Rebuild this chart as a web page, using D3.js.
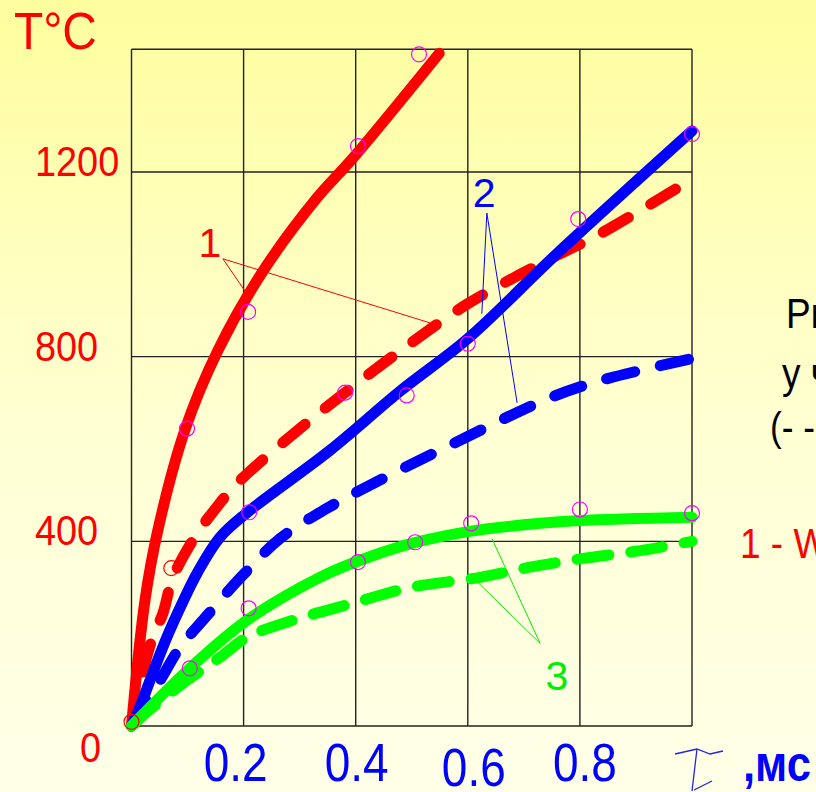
<!DOCTYPE html>
<html>
<head>
<meta charset="utf-8">
<script src="https://cdn.jsdelivr.net/npm/d3@7"></script>
<style>
  html, body { margin: 0; padding: 0; overflow: hidden; }
  svg { display: block; font-family: "Liberation Sans", Arial, sans-serif; }
</style>
</head>
<body>
<figure id="chart" style="margin:0"></figure>
<script>
// Values: time in ms, temperature in °C
const xTicks = [0.2, 0.4, 0.6, 0.8];
const yTicks = [0, 400, 800, 1200];
const yTop = 1466;

const redSolid = [[0, 0], [0.024, 272], [0.047, 424], [0.095, 640], [0.154, 813], [0.235, 986],
  [0.331, 1144], [0.395, 1230], [0.549, 1457]];
const redDashed = [[0, 0], [0.021, 121], [0.038, 192], [0.056, 244], [0.074, 322], [0.117, 417],
  [0.145, 463], [0.188, 525], [0.301, 645], [0.381, 722], [0.480, 813], [0.599, 914],
  [0.747, 1012], [0.836, 1066], [1.0, 1185]];
const blueSolid = [[0, 0], [0.015, 41], [0.038, 115], [0.063, 192], [0.087, 257], [0.117, 331],
  [0.158, 409], [0.206, 462], [0.354, 597], [0.480, 726], [0.600, 839], [0.759, 1023], [1.0, 1289]];
const blueDashed = [[0, 0], [0.051, 99], [0.087, 171], [0.131, 234], [0.195, 322], [0.265, 406],
  [0.348, 471], [0.431, 525], [0.568, 608], [0.747, 711], [0.836, 748], [1.0, 796]];
const greenSolid = [[0, 0], [0.104, 125], [0.206, 229], [0.336, 322], [0.408, 359], [0.502, 396],
  [0.606, 422], [0.729, 439], [0.800, 445], [1.0, 452]];
const greenDashed = [[0, 0], [0.038, 41], [0.099, 99], [0.158, 149], [0.206, 192], [0.288, 229],
  [0.395, 266], [0.497, 300], [0.622, 322], [0.711, 344], [0.806, 363], [0.908, 380], [1.0, 400]];

// measured points (circles)
const pointsMagenta = [[0.099, 644], [0.208, 897], [0.404, 1256], [0.513, 1455],
  [0.381, 722], [0.21, 463], [0.491, 716], [0.6, 828], [0.797, 1098], [1.0, 1282],
  [0.104, 125], [0.209, 255], [0.404, 355], [0.506, 398], [0.606, 439], [0.8, 469], [1.0, 461]];
const pointsRed = [[0.071, 342], [0, 9]];

// curve labels with leader lines
const callouts = [
  { text: "1", color: "#ff0000", at: [0.140, 1016], apex: [0.163, 1012], ends: [[0.206, 936], [0.533, 873]] },
  { text: "2", color: "#0000ff", at: [0.629, 1124], apex: [0.634, 1111], ends: [[0.625, 893], [0.688, 700]] },
  { text: "3", color: "#00ee00", at: [0.759, 78], apex: [0.729, 179], ends: [[0.643, 406], [0.618, 311]] }
];

const width = 816, height = 792;

const svg = d3.select("#chart").append("svg")
  .attr("width", width).attr("height", height);

// background gradient
const grad = svg.append("defs").append("linearGradient")
  .attr("id", "bg").attr("x1", 0).attr("y1", 0).attr("x2", 0).attr("y2", 1);
grad.append("stop").attr("offset", "0%").attr("stop-color", "#fefe9e");
grad.append("stop").attr("offset", "55%").attr("stop-color", "#ffffd4");
grad.append("stop").attr("offset", "100%").attr("stop-color", "#ffffe8");
svg.append("rect").attr("width", width).attr("height", height).attr("fill", "url(#bg)");

const x = d3.scaleLinear().domain([0, 1]).range([131.5, 692]);
const y = d3.scaleLinear().domain([0, 1200]).range([726, 172]);

// grid
const grid = svg.append("g").attr("stroke", "#222").attr("stroke-width", 1.4);
grid.selectAll("line.v").data([0].concat(xTicks, [1])).enter().append("line")
  .attr("x1", d => x(d)).attr("x2", d => x(d))
  .attr("y1", y(0)).attr("y2", y(yTop));
grid.selectAll("line.h").data(yTicks.concat([yTop])).enter().append("line")
  .attr("x1", x(0)).attr("x2", x(1))
  .attr("y1", d => y(d)).attr("y2", d => y(d));

// y tick labels: left-aligned, "0" sits lower
svg.selectAll("text.ytick").data(yTicks).enter().append("text")
  .attr("transform", d => d === 0
    ? `translate(101, ${y(d) + 36}) scale(0.88,1)`
    : `translate(35, ${y(d) + 4}) scale(0.88,1)`)
  .attr("text-anchor", d => d === 0 ? "end" : "start")
  .attr("font-size", 43)
  .attr("fill", "#ff0000")
  .text(d => d);

svg.append("text")
  .attr("transform", "translate(14, 49) scale(0.92,1)")
  .attr("font-size", 52).attr("fill", "#ff0000")
  .text("T°C");

// x tick labels (slight nudges as in the picture)
const xNudge = [-8, 1, 6, 5];
const xDrop = [0, 0, 5, 0];
svg.selectAll("text.xtick").data(xTicks).enter().append("text")
  .attr("transform", (d, i) => `translate(${x(d) + xNudge[i]}, ${y(0) + 55 + xDrop[i]}) scale(0.92,1.06)`)
  .attr("text-anchor", "middle")
  .attr("font-size", 50)
  .attr("fill", "#0000ff")
  .text(d => d);

// hand drawn tau and unit
svg.append("path")
  .attr("d", "M675,754 L697,749 L710,754 L723,751 M697,749 L692,791 M694,790 L712,781")
  .attr("fill", "none").attr("stroke", "#2222ee").attr("stroke-width", 1.3);
svg.append("text")
  .attr("transform", "translate(743, 781) scale(0.87,1)")
  .attr("font-size", 50).attr("font-weight", "bold").attr("fill", "#0000ff")
  .text(",мс");

// curves
const line = d3.line().x(d => x(d[0])).y(d => y(d[1])).curve(d3.curveCatmullRom.alpha(0.5));
const curves = [
  { data: redDashed, color: "#ff0000", dash: "29,26" },
  { data: redSolid, color: "#ff0000", dash: null },
  { data: blueDashed, color: "#0000ff", dash: "29,26" },
  { data: blueSolid, color: "#0000ff", dash: null },
  { data: greenDashed, color: "#00ff00", dash: "32,22" },
  { data: greenSolid, color: "#00ff00", dash: null }
];
svg.selectAll("path.curve").data(curves).enter().append("path")
  .attr("class", "curve")
  .attr("d", d => line(d.data))
  .attr("fill", "none")
  .attr("stroke", d => d.color)
  .attr("stroke-width", 11)
  .attr("stroke-linecap", "round")
  .attr("stroke-linejoin", "round")
  .attr("stroke-dasharray", d => d.dash);

// measured points
svg.selectAll("circle.pm").data(pointsMagenta).enter().append("circle")
  .attr("cx", d => x(d[0])).attr("cy", d => y(d[1])).attr("r", 7.5)
  .attr("fill", "none").attr("stroke", "#ff00ff").attr("stroke-width", 1.2);
svg.selectAll("circle.pr").data(pointsRed).enter().append("circle")
  .attr("cx", d => x(d[0])).attr("cy", d => y(d[1])).attr("r", 7.5)
  .attr("fill", "none").attr("stroke", "#ff0000").attr("stroke-width", 1.2);

// callouts
const co = svg.selectAll("g.callout").data(callouts).enter().append("g");
co.each(function (d) {
  const g = d3.select(this);
  d.ends.forEach(e => {
    g.append("line")
      .attr("x1", x(d.apex[0])).attr("y1", y(d.apex[1]))
      .attr("x2", x(e[0])).attr("y2", y(e[1]))
      .attr("stroke", d.color).attr("stroke-width", 1);
  });
  g.append("text")
    .attr("x", x(d.at[0])).attr("y", y(d.at[1]))
    .attr("text-anchor", "middle")
    .attr("font-size", 41)
    .attr("fill", d.color)
    .text(d.text);
});

// side notes, cut by the page edge
const note = (tx, ty, size, color, str) => svg.append("text")
  .attr("transform", `translate(${tx}, ${ty}) scale(0.88,1)`)
  .attr("font-size", size).attr("fill", color).text(str);
note(786, 328, 42, "#000", "Pr");
note(782, 388, 42, "#000", "у ч");
note(770, 441, 40, "#000", "(- - -");
note(740, 558, 42, "#ff0000", "1 - W");
</script>
</body>
</html>
